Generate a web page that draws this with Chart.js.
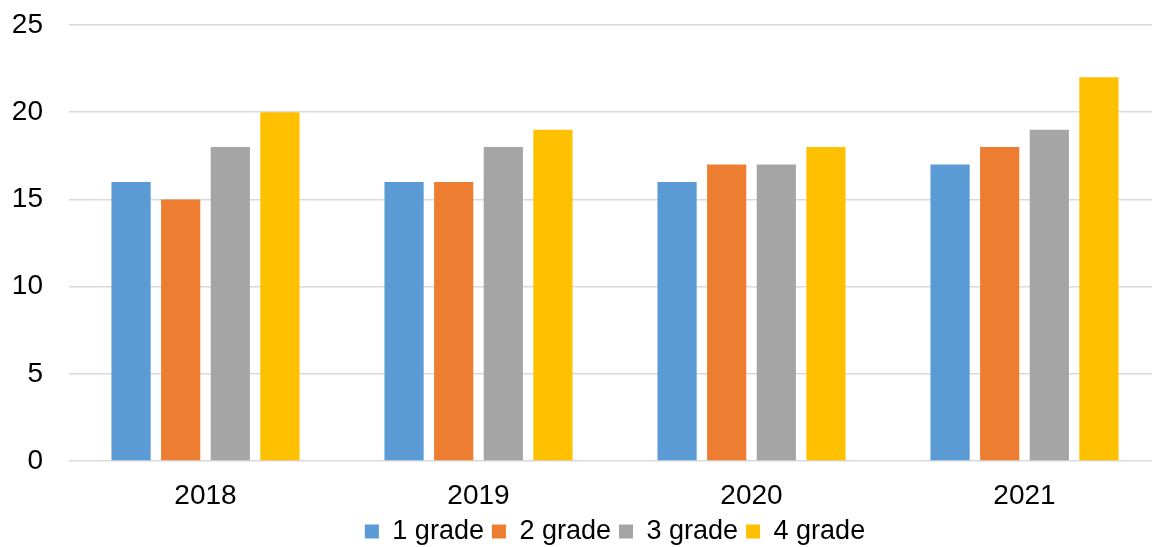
<!DOCTYPE html>
<html>
<head>
<meta charset="utf-8">
<script src="https://cdn.jsdelivr.net/npm/chart.js@4"></script>
<style>
  html, body { margin: 0; padding: 0; background: #fff; overflow: hidden; }
  #wrap { width: 1200px; height: 547px; position: relative; }
</style>
</head>
<body>
<div id="wrap"><canvas id="diagram"></canvas></div>
<script>
// data
const years = ['2018', '2019', '2020', '2021'];
const grade1 = [16, 16, 16, 17];
const grade2 = [15, 16, 17, 18];
const grade3 = [18, 18, 17, 19];
const grade4 = [20, 19, 18, 22];
const seriesNames = ['1 grade', '2 grade', '3 grade', '4 grade'];
const seriesColors = ['#5b9bd5', '#ed7d31', '#a5a5a5', '#ffc000'];

Chart.defaults.font.family = '"Liberation Sans", Arial, sans-serif';
Chart.defaults.color = '#000';

const allSeries = [grade1, grade2, grade3, grade4];

const chart = new Chart(document.getElementById('diagram').getContext('2d'), {
  type: 'bar',
  data: {
    labels: years,
    datasets: allSeries.map((vals, i) => ({
      label: seriesNames[i],
      data: vals,
      backgroundColor: seriesColors[i],
      borderWidth: 0,
      categoryPercentage: 0.727,
      barPercentage: 0.79
    }))
  },
  options: {
    responsive: true,
    maintainAspectRatio: false,
    animation: false,
    layout: { padding: { top: 0, right: 39, bottom: -8, left: 0 } },
    plugins: {
      tooltip: { enabled: false },
      legend: {
        position: 'bottom',
        fullSize: false,
        labels: {
          boxWidth: 14,
          boxHeight: 14,
          padding: 8,
          font: { size: 27, lineHeight: 1 }
        }
      }
    },
    scales: {
      x: {
        grid: { display: false },
        border: { display: false },
        ticks: { font: { size: 28, lineHeight: 1 }, padding: 13 },
        afterFit: (s) => { s.height = 49; }
      },
      y: {
        min: 0,
        max: 25,
        ticks: { stepSize: 5, font: { size: 28 }, padding: 26 },
        grid: { color: '#d9d9d9', lineWidth: 1.5, drawTicks: false },
        border: { display: false },
        afterFit: (s) => {
          s.width = 69;
          s.paddingTop = 25;
          s.paddingBottom = 0;
        }
      }
    }
  }
});
</script>
</body>
</html>
